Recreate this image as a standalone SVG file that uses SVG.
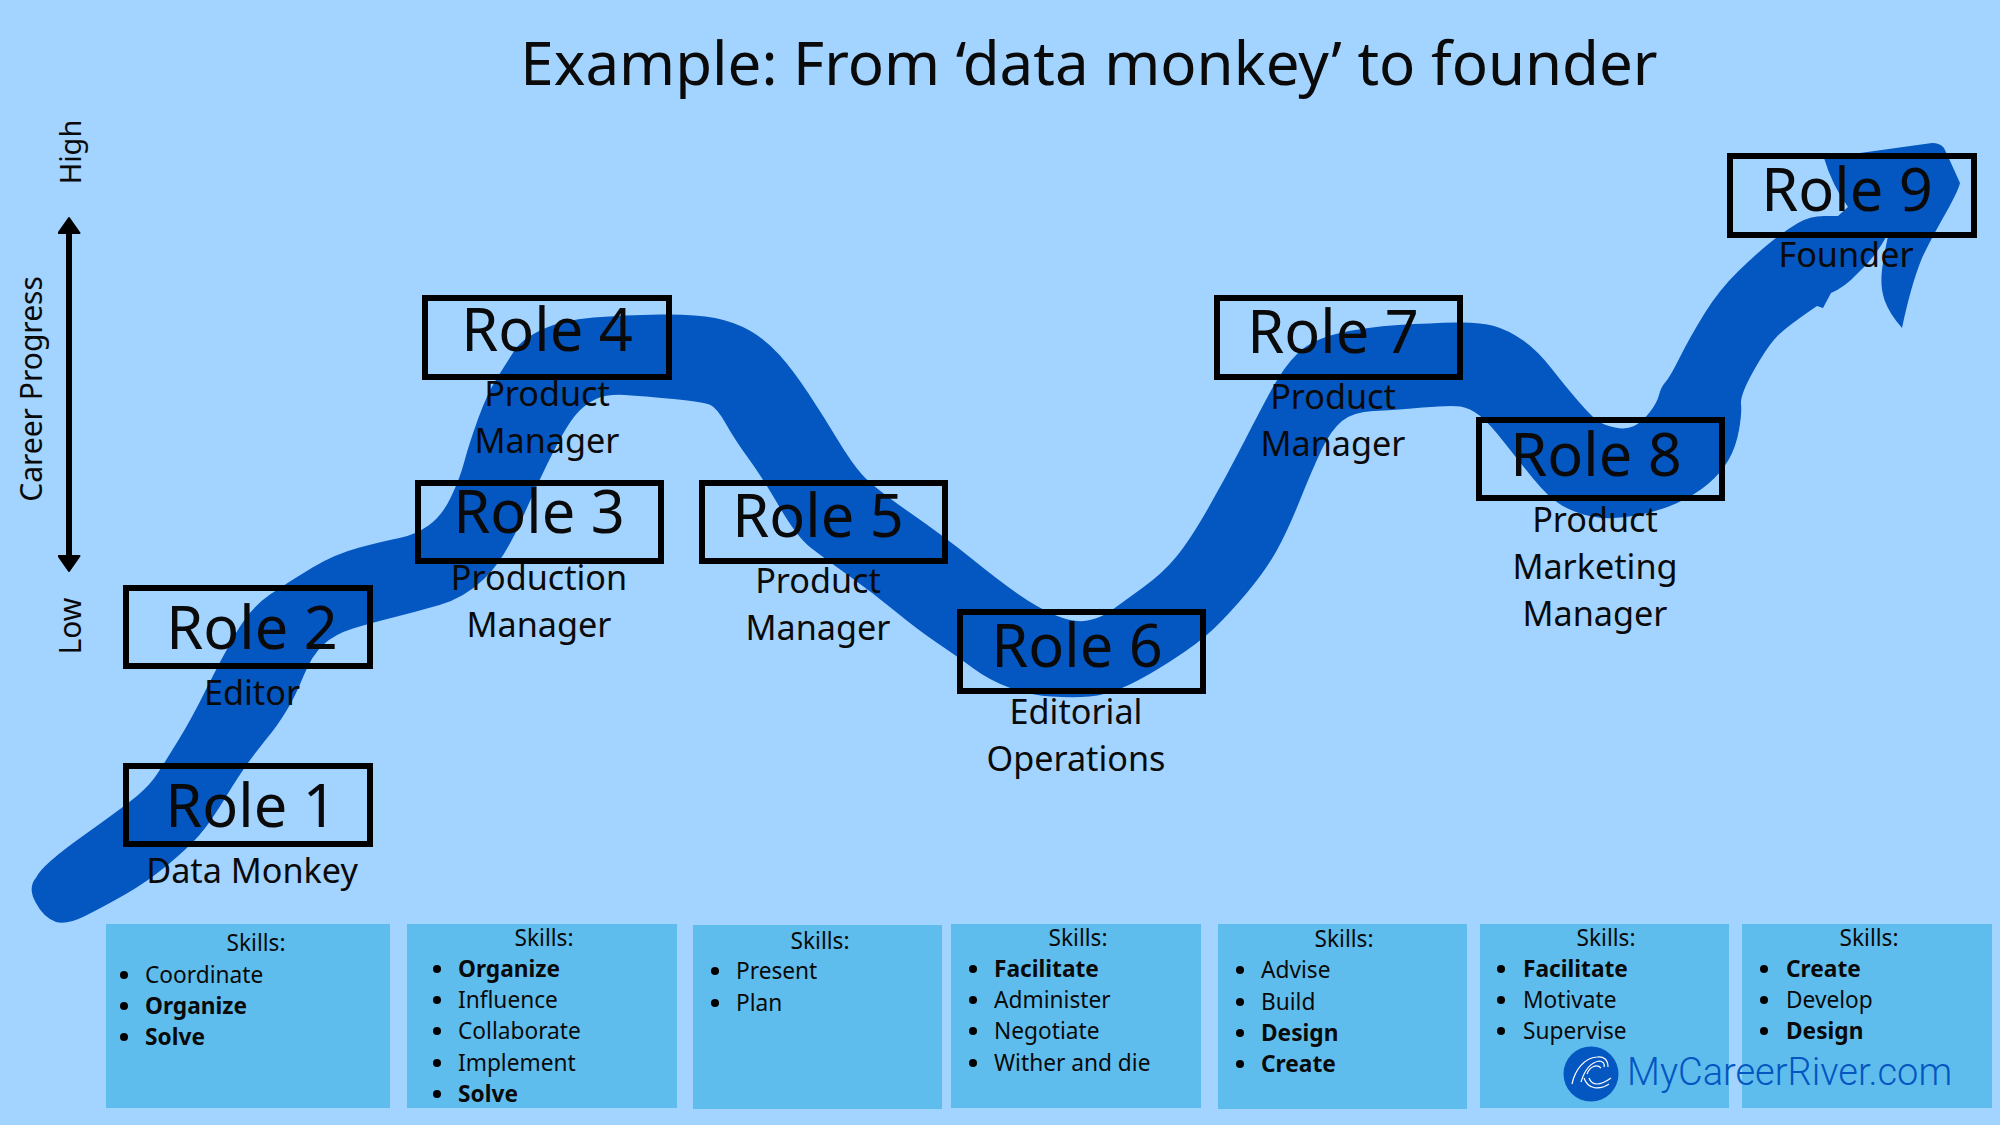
<svg xmlns="http://www.w3.org/2000/svg" width="2000" height="1125" viewBox="0 0 2000 1125">
<style>
text{font-family:"Noto Sans","Open Sans",sans-serif;fill:#0a0a0a}
.title{font-size:60px;text-anchor:middle}
.role{font-size:59.5px;text-anchor:middle}
.sub{font-size:34.2px;text-anchor:middle}
.axis{font-size:30px;text-anchor:middle}
.box{fill:none;stroke:#000;stroke-width:6}
.skillbox{fill:#5fbdee}
.sk{font-size:22.7px}
.c{text-anchor:middle}
.b{font-weight:700}
.dot{fill:#000}
</style>
<defs>
<marker id="ah" viewBox="0 0 17 23" refX="0" refY="11.5" markerWidth="17" markerHeight="23" markerUnits="userSpaceOnUse" orient="auto-start-reverse"><path d="M1 1L16 11.5L1 22Z" fill="#000" stroke="#000" stroke-width="2" stroke-linejoin="round"/></marker>
</defs>
<rect width="2000" height="1125" fill="#a3d3ff"/>
<g id="river">
<path d="M36.5 877Q42 865 83.5 835.5Q125 806 137.5 795.5Q150 785 157.5 773.5Q165 762 178.5 740Q192 718 205.5 690.5Q219 663 234.5 635.5Q250 608 270 594.5Q290 581 312.5 567.5Q335 554 359.5 547.5Q384 541 399.5 538Q415 535 428.5 525.5Q442 516 451 497Q460 478 464.5 461Q469 444 478 419Q487 394 497 378Q507 362 514.5 350.5Q522 339 542 329.5Q562 320 593.5 317.5Q625 315 660 314.5Q695 314 715 318Q735 322 750.5 331Q766 340 779.5 355Q793 370 808.5 393.5Q824 417 837.5 439.5Q851 462 862 474.5Q873 487 909 512Q945 537 971.5 558.5Q998 580 1018 594Q1038 608 1056 615.5Q1074 623 1087.5 620.5Q1101 618 1112 610Q1123 602 1143 587.5Q1163 573 1176.5 556.5Q1190 540 1208 508.5Q1226 477 1244 442Q1262 407 1273 387Q1284 367 1297.5 353.5Q1311 340 1338 333.5Q1365 327 1398.5 325Q1432 323 1456 322.5Q1480 322 1494 326Q1508 330 1522.5 340Q1537 350 1551.5 368.5Q1566 387 1579 402Q1592 417 1598 421Q1604 425 1615 427.5Q1626 430 1634 426Q1642 422 1649.5 412.5Q1657 403 1659 395Q1661 387 1665.5 382Q1670 377 1680 357Q1690 337 1704.5 313.5Q1719 290 1738 271.5Q1757 253 1771.5 241.5Q1786 230 1798 223Q1810 216 1824 216L1838 216L1848 207Q1832 185 1824 158L1932 143Q1940 143 1944 148Q1952 165 1960 183Q1958 192 1941 221.5Q1929 243 1922 258Q1911 285 1902 328Q1889 313 1884.5 300Q1880 287 1882 270Q1884 253 1889 232Q1875 258 1858 273Q1845 287 1831 293L1823 308L1817 306Q1786 327 1776.5 337Q1767 347 1753.5 371Q1740 395 1741 404Q1742 413 1739 430Q1736 447 1728.5 460Q1721 473 1708 484Q1695 495 1676 503.5Q1657 512 1633 516Q1609 520 1592 516.5Q1575 513 1562 505.5Q1549 498 1533.5 479Q1518 460 1503.5 441.5Q1489 423 1479.5 415.5Q1470 408 1460.5 406.5Q1451 405 1422.5 407.5Q1394 410 1373.5 411Q1353 412 1342 421Q1331 430 1321.5 450Q1312 470 1300 500Q1288 530 1277 550Q1266 570 1248 591.5Q1230 613 1214.5 628Q1199 643 1170 661.5Q1141 680 1123 687.5Q1105 695 1089.5 696.5Q1074 698 1051.5 696.5Q1029 695 1009 687.5Q989 680 973.5 668.5Q958 657 938 643.5Q918 630 895.5 611.5Q873 593 848.5 575.5Q824 558 810.5 547.5Q797 537 779.5 507Q762 477 748.5 458.5Q735 440 726 424Q717 408 710.5 405Q704 402 673.5 399Q643 396 625 395Q607 394 596 399Q585 404 576 414.5Q567 425 553.5 451.5Q540 478 522 519Q504 560 484 579Q464 598 439.5 605Q415 612 393 617.5Q371 623 353 628.5Q335 634 323.5 644.5Q312 655 303.5 676Q295 697 286 711.5Q277 726 270 734.5Q263 743 252 757.5Q241 772 225.5 797.5Q210 823 199 835.5Q188 848 167.5 865Q147 882 125 894.5Q103 907 85 916Q67 925 56 922Q43 917 36 903Q27 888 36.5 877Z" fill="#0456c0"/>
</g>
<g id="connectors">
<line x1="69" y1="234" x2="69" y2="555" stroke="#000" stroke-width="6" marker-start="url(#ah)" marker-end="url(#ah)"/>
</g>
<text class="title" x="1089" y="85">Example: From ‘data monkey’ to founder</text>
<g id="axis-labels">
<text class="axis" style="font-size:29px" transform="translate(81 152) rotate(-90)">High</text>
<text class="axis" transform="translate(81 626) rotate(-90)">Low</text>
<text class="axis" transform="translate(42 389) rotate(-90)">Career Progress</text>
</g>
<g id="role1"><rect class="box" x="126" y="766" width="244" height="78"/><text class="role" x="251" y="827">Role 1</text><text class="sub" x="252" y="883">Data Monkey</text></g>
<g id="role2"><rect class="box" x="126" y="588" width="244" height="78"/><text class="role" x="252" y="649">Role 2</text><text class="sub" x="252" y="705">Editor</text></g>
<g id="role3"><rect class="box" x="418" y="483" width="243" height="78"/><text class="role" x="539" y="533">Role 3</text><text class="sub" x="539" y="590">Production</text><text class="sub" x="539" y="637">Manager</text></g>
<g id="role4"><rect class="box" x="425" y="298" width="244" height="79"/><text class="role" x="547" y="351">Role 4</text><text class="sub" x="547" y="406">Product</text><text class="sub" x="547" y="453">Manager</text></g>
<g id="role5"><rect class="box" x="702" y="483" width="243" height="78"/><text class="role" x="818" y="537">Role 5</text><text class="sub" x="818" y="593">Product</text><text class="sub" x="818" y="640">Manager</text></g>
<g id="role6"><rect class="box" x="960" y="612" width="243" height="79"/><text class="role" x="1077" y="667">Role 6</text><text class="sub" x="1076" y="724">Editorial</text><text class="sub" x="1076" y="771">Operations</text></g>
<g id="role7"><rect class="box" x="1217" y="298" width="243" height="79"/><text class="role" x="1333" y="353">Role 7</text><text class="sub" x="1333" y="409">Product</text><text class="sub" x="1333" y="456">Manager</text></g>
<g id="role8"><rect class="box" x="1479" y="420" width="243" height="78"/><text class="role" x="1596" y="476">Role 8</text><text class="sub" x="1595" y="532">Product</text><text class="sub" x="1595" y="579">Marketing</text><text class="sub" x="1595" y="626">Manager</text></g>
<g id="role9"><rect class="box" x="1730" y="156" width="244" height="79"/><text class="role" x="1847" y="211">Role 9</text><text class="sub" x="1846" y="267">Founder</text></g>
<g id="skills1"><rect class="skillbox" x="106" y="924" width="284" height="184"/><text class="sk c" x="256" y="951">Skills:</text><circle class="dot" cx="124" cy="975" r="4"/><text class="sk" x="145" y="983">Coordinate</text><circle class="dot" cx="124" cy="1006" r="4"/><text class="sk b" x="145" y="1014">Organize</text><circle class="dot" cx="124" cy="1037" r="4"/><text class="sk b" x="145" y="1045">Solve</text></g>
<g id="skills2"><rect class="skillbox" x="407" y="924" width="270" height="184"/><text class="sk c" x="544" y="946">Skills:</text><circle class="dot" cx="437" cy="969" r="4"/><text class="sk b" x="458" y="977">Organize</text><circle class="dot" cx="437" cy="1000" r="4"/><text class="sk" x="458" y="1008">Influence</text><circle class="dot" cx="437" cy="1031" r="4"/><text class="sk" x="458" y="1039">Collaborate</text><circle class="dot" cx="437" cy="1063" r="4"/><text class="sk" x="458" y="1071">Implement</text><circle class="dot" cx="437" cy="1094" r="4"/><text class="sk b" x="458" y="1102">Solve</text></g>
<g id="skills3"><rect class="skillbox" x="693" y="925" width="249" height="184"/><text class="sk c" x="820" y="949">Skills:</text><circle class="dot" cx="715" cy="971" r="4"/><text class="sk" x="736" y="979">Present</text><circle class="dot" cx="715" cy="1003" r="4"/><text class="sk" x="736" y="1011">Plan</text></g>
<g id="skills4"><rect class="skillbox" x="951" y="924" width="250" height="184"/><text class="sk c" x="1078" y="946">Skills:</text><circle class="dot" cx="973" cy="969" r="4"/><text class="sk b" x="994" y="977">Facilitate</text><circle class="dot" cx="973" cy="1000" r="4"/><text class="sk" x="994" y="1008">Administer</text><circle class="dot" cx="973" cy="1031" r="4"/><text class="sk" x="994" y="1039">Negotiate</text><circle class="dot" cx="973" cy="1063" r="4"/><text class="sk" x="994" y="1071">Wither and die</text></g>
<g id="skills5"><rect class="skillbox" x="1218" y="924" width="249" height="185"/><text class="sk c" x="1344" y="947">Skills:</text><circle class="dot" cx="1240" cy="970" r="4"/><text class="sk" x="1261" y="978">Advise</text><circle class="dot" cx="1240" cy="1002" r="4"/><text class="sk" x="1261" y="1010">Build</text><circle class="dot" cx="1240" cy="1033" r="4"/><text class="sk b" x="1261" y="1041">Design</text><circle class="dot" cx="1240" cy="1064" r="4"/><text class="sk b" x="1261" y="1072">Create</text></g>
<g id="skills6"><rect class="skillbox" x="1480" y="924" width="249" height="184"/><text class="sk c" x="1606" y="946">Skills:</text><circle class="dot" cx="1501" cy="969" r="4"/><text class="sk b" x="1523" y="977">Facilitate</text><circle class="dot" cx="1501" cy="1000" r="4"/><text class="sk" x="1523" y="1008">Motivate</text><circle class="dot" cx="1501" cy="1031" r="4"/><text class="sk" x="1523" y="1039">Supervise</text></g>
<g id="skills7"><rect class="skillbox" x="1742" y="924" width="250" height="184"/><text class="sk c" x="1869" y="946">Skills:</text><circle class="dot" cx="1764" cy="969" r="4"/><text class="sk b" x="1786" y="977">Create</text><circle class="dot" cx="1764" cy="1000" r="4"/><text class="sk" x="1786" y="1008">Develop</text><circle class="dot" cx="1764" cy="1031" r="4"/><text class="sk b" x="1786" y="1039">Design</text></g>
<g id="logo"><circle cx="1591" cy="1074" r="27.5" fill="#0456c0"/><path d="M1572 1084C1575 1070 1584 1058 1597 1057C1604 1056 1608 1060 1608 1067M1581 1082C1584 1072 1589 1063 1599 1061C1603 1061 1605 1064 1604 1067M1587 1074C1590 1066 1597 1064 1601 1068M1589 1078C1592 1086 1600 1086 1611 1078M1584 1078C1588 1090 1600 1090 1609 1084" fill="none" stroke="#fff" stroke-width="1.2"/><text x="1627" y="1085" font-size="38" font-weight="300" style="font-family:Roboto,Inter,sans-serif;fill:#0456c0">MyCareerRiver.com</text></g>
</svg>
